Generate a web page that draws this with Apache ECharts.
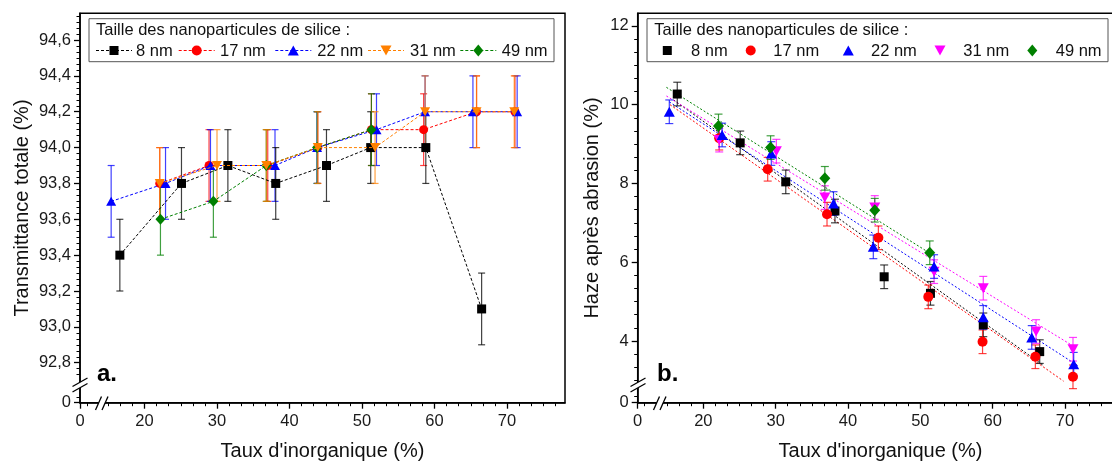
<!DOCTYPE html>
<html>
<head>
<meta charset="utf-8">
<script src="https://cdn.jsdelivr.net/npm/echarts@6/dist/echarts.min.js"></script>
<style>
html,body{margin:0;padding:0;background:#fff;}
#c{width:1112px;height:463px;}
</style>
</head>
<body>
<div id="c"></div>
<script>
// ---------- DATA ----------
const seriesNames = ['8 nm', '17 nm', '22 nm', '31 nm', '49 nm'];

// Panel a: Transmittance totale (%)
const tX8  = [16.6, 25.1, 31.5, 38.1, 45.1, 51.2, 58.8, 66.5];
const tY8  = [93.4, 93.8, 93.9, 93.8, 93.9, 94.0, 94.0, 93.1];
const tX17 = [22.1, 28.9, 37.0, 43.9, 51.3, 58.5, 65.8, 71.1];
const tY17 = [93.8, 93.9, 93.9, 94.0, 94.1, 94.1, 94.2, 94.2];
const tX22 = [15.4, 22.9, 29.1, 38.0, 43.8, 52.0, 58.7, 65.3, 71.4];
const tY22 = [93.7, 93.8, 93.9, 93.9, 94.0, 94.1, 94.2, 94.2, 94.2];
const tX31 = [22.1, 30.0, 36.8, 43.9, 51.8, 58.7, 65.8, 71.0];
const tY31 = [93.8, 93.9, 93.9, 94.0, 94.0, 94.2, 94.2, 94.2];
const tX49 = [22.2, 29.5, 36.8, 43.8, 51.3];
const tY49 = [93.6, 93.7, 93.9, 94.0, 94.1];
const tErr = 0.2;

// Panel b: Haze après abrasion (%)
const hX8  = [16.4, 25.1, 31.4, 38.2, 45.0, 51.4, 58.7, 66.5];
const hY8  = [10.27, 9.03, 8.04, 7.30, 5.63, 5.21, 4.41, 3.73];
const hX17 = [22.2, 28.9, 37.1, 44.2, 51.1, 58.6, 65.9, 71.1];
const hY17 = [9.15, 8.36, 7.22, 6.62, 5.12, 3.98, 3.60, 3.09];
const hX22 = [15.3, 22.6, 29.4, 38.0, 43.5, 51.9, 58.7, 65.4, 71.2];
const hY22 = [9.82, 9.23, 8.76, 7.49, 6.39, 5.89, 4.60, 4.09, 3.41];
const hX31 = [22.2, 30.1, 36.8, 43.7, 51.9, 58.7, 66.0, 71.1];
const hY31 = [9.10, 8.82, 7.64, 7.39, 5.76, 5.34, 4.24, 3.79];
const hX49 = [22.1, 29.3, 36.8, 43.7, 51.3];
const hY49 = [9.46, 8.91, 8.13, 7.32, 6.24];
const hErr = 0.3;

// Fit lines of panel b (read endpoints): [x0, y0, x1, y1]
const fit8  = [15.9, 10.12, 67.0, 3.38];
const fit17 = [15.4, 10.00, 69.8, 2.98];
const fit22 = [15.3, 10.07, 71.8, 3.37];
const fit31 = [14.9, 10.22, 71.4, 3.84];
const fit49 = [14.9, 10.44, 52.0, 6.15];

// Ticks
const xMajor = [20, 30, 40, 50, 60, 70];
const tYMajor = [92.8, 93.0, 93.2, 93.4, 93.6, 93.8, 94.0, 94.2, 94.4, 94.6];
const hYMajor = [4, 6, 8, 10, 12];

// ---------- STYLE ----------
const colorsA = ['#000000', '#ff0000', '#0000ff', '#ff8000', '#008000'];
const colorsB = ['#000000', '#ff0000', '#0000ff', '#ff00ff', '#008000'];
const symbols = ['rect', 'circle', 'triangle', 'path://M0,0 L10,0 L5,9 Z', 'diamond'];
const symSizeA = [9, 9, [10, 9], [10, 9], [10, 11]];
const symSizeB = [9, 10, [11, 10], [11, 10], [11, 12]];
const FONT = '"Liberation Sans", Arial, sans-serif';

// axis ranges (0 label sits at the broken-axis origin)
const axA = {xMin: 11.103, xMax: 78.0, yMin: 92.577, yMax: 94.749};
const axB = {xMin: 10.932, xMax: 78.0, yMin: 2.433, yMax: 12.32};

function minorOf(majors, parts, lo, hi) {
  const out = [];
  for (let i = 0; i < majors.length - 1; i++) {
    const s = (majors[i + 1] - majors[i]) / parts;
    for (let k = 1; k < parts; k++) out.push(+(majors[i] + k * s).toFixed(4));
  }
  const s0 = (majors[1] - majors[0]) / parts;
  for (let k = 1; k < parts; k++) {
    const b = majors[0] - k * s0, a = majors[majors.length - 1] + k * s0;
    if (b >= lo) out.push(+b.toFixed(4));
    if (a <= hi) out.push(+a.toFixed(4));
  }
  return out;
}

const xMinorA = minorOf(xMajor, 6, 14.9, axA.xMax).concat([12.07]);
const xMinorB = minorOf(xMajor, 6, 14.9, axB.xMax).concat([11.9]);
const yMinorA = minorOf(tYMajor, 6, 92.7, axA.yMax).concat([92.61]);
const yMinorB = minorOf(hYMajor, 6, 2.95, axB.yMax).concat([2.59]);

function pairs(xs, ys) { return xs.map((x, i) => [x, ys[i]]); }
function triples(xs, ys, e) { return xs.map((x, i) => [x, ys[i], e]); }

function majorAxis(grid, dim, min, max, majors, fmt, extra) {
  const isX = dim === 'x';
  return Object.assign({
    type: 'value', gridIndex: grid, min: min, max: max,
    position: isX ? 'bottom' : 'left',
    axisLine: {show: true, onZero: false, lineStyle: {color: '#000', width: 1.5}},
    axisTick: {show: true, inside: false, length: 6, customValues: [min].concat(majors),
               lineStyle: {color: '#000', width: 1.3}},
    axisLabel: {show: true, customValues: [min].concat(majors), formatter: fmt,
                fontFamily: FONT, fontSize: 16.5, color: '#1a1a1a', margin: isX ? 10 : 9,
                showMinLabel: true, showMaxLabel: true},
    splitLine: {show: false}, minorTick: {show: false}
  }, extra || {});
}
function minorAxis(grid, dim, min, max, minors) {
  const isX = dim === 'x';
  return {
    type: 'value', gridIndex: grid, min: min, max: max,
    position: isX ? 'bottom' : 'left',
    axisLine: {show: false, onZero: false},
    axisTick: {show: true, inside: false, length: 3.5, customValues: minors,
               lineStyle: {color: '#000', width: 1}},
    axisLabel: {show: false}, splitLine: {show: false}
  };
}

const fmtXA = v => (v < 12 ? '0' : String(Math.round(v)));
const fmtYA = v => (v < 92.7 ? '0' : v.toFixed(1).replace('.', ','));
const fmtYB = v => (v < 3 ? '0' : String(Math.round(v)));

function errRender(color, capHalf, lw) {
  return function (params, api) {
    const x = api.value(0), y = api.value(1), e = api.value(2);
    const t = api.coord([x, y + e]);
    const b = api.coord([x, y - e]);
    const st = {stroke: color, lineWidth: lw, opacity: 0.75};
    return {type: 'group', children: [
      {type: 'line', shape: {x1: t[0], y1: t[1], x2: b[0], y2: b[1]}, style: st},
      {type: 'line', shape: {x1: t[0] - capHalf, y1: t[1], x2: t[0] + capHalf, y2: t[1]}, style: st},
      {type: 'line', shape: {x1: b[0] - capHalf, y1: b[1], x2: b[0] + capHalf, y2: b[1]}, style: st}
    ]};
  };
}

const tX = [tX8, tX17, tX22, tX31, tX49], tY = [tY8, tY17, tY22, tY31, tY49];
const hX = [hX8, hX17, hX22, hX31, hX49], hY = [hY8, hY17, hY22, hY31, hY49];
const fits = [fit8, fit17, fit22, fit31, fit49];

const series = [];
// draw order (later on top)
const orderA = [1, 2, 0, 4, 3];
const orderB = [0, 1, 3, 2, 4];

orderA.forEach((i, k) => {
  series.push({
    type: 'custom', xAxisIndex: 0, yAxisIndex: 0, z: 2,
    renderItem: errRender(colorsA[i], 3.5, 1.2),
    encode: {x: 0, y: 1}, data: triples(tX[i], tY[i], tErr), clip: false, silent: true
  });
});
orderA.forEach((i, k) => {
  series.push({
    type: 'line', name: seriesNames[i], xAxisIndex: 0, yAxisIndex: 0, z: 3 + k,
    data: pairs(tX[i], tY[i]), symbol: symbols[i], symbolSize: symSizeA[i],
    showSymbol: true, itemStyle: {color: colorsA[i], borderWidth: 0},
    lineStyle: {color: colorsA[i], width: 1, type: [3, 2]}, animation: false, silent: true
  });
});
orderB.forEach(i => {
  series.push({
    type: 'line', name: 'fit ' + seriesNames[i], xAxisIndex: 2, yAxisIndex: 2, z: 2,
    data: [[fits[i][0], fits[i][1]], [fits[i][2], fits[i][3]]], symbol: 'none',
    lineStyle: {color: colorsB[i], width: 1, type: [2, 2]}, animation: false, silent: true
  });
});
orderB.forEach(i => {
  series.push({
    type: 'custom', xAxisIndex: 2, yAxisIndex: 2, z: 3,
    renderItem: errRender(colorsB[i], 4, 1.2),
    encode: {x: 0, y: 1}, data: triples(hX[i], hY[i], hErr), clip: false, silent: true
  });
});
orderB.forEach((i, k) => {
  series.push({
    type: 'scatter', name: seriesNames[i], xAxisIndex: 2, yAxisIndex: 2, z: 4 + k,
    data: pairs(hX[i], hY[i]), symbol: symbols[i], symbolSize: symSizeB[i],
    itemStyle: {color: colorsB[i], opacity: 1}, animation: false, silent: true
  });
});

// ---------- LEGENDS & DECORATIONS (graphic) ----------
function markerShape(kind, cx, cy, color, s) {
  const h = s / 2;
  if (kind === 0) return {type: 'rect', shape: {x: cx - h, y: cy - h, width: s, height: s}, style: {fill: color}};
  if (kind === 1) return {type: 'circle', shape: {cx: cx, cy: cy, r: h}, style: {fill: color}};
  if (kind === 2) return {type: 'polygon', shape: {points: [[cx, cy - h], [cx + h + 0.5, cy + h], [cx - h - 0.5, cy + h]]}, style: {fill: color}};
  if (kind === 3) return {type: 'polygon', shape: {points: [[cx - h - 0.5, cy - h], [cx + h + 0.5, cy - h], [cx, cy + h]]}, style: {fill: color}};
  return {type: 'polygon', shape: {points: [[cx, cy - h - 1], [cx + h, cy], [cx, cy + h + 1], [cx - h, cy]]}, style: {fill: color}};
}
function legendBlock(box, titleX, mX, tXs, colors, withLine) {
  const els = [];
  els.push({type: 'rect', shape: {x: box[0], y: box[1], width: box[2], height: box[3]},
            style: {fill: '#fff', stroke: '#555', lineWidth: 1}, z: 50});
  els.push({type: 'text', x: titleX, y: 30.5, z: 51,
            style: {text: 'Taille des nanoparticules de silice :', font: '16.5px ' + FONT, fill: '#111',
                    align: 'left', verticalAlign: 'middle'}});
  for (let i = 0; i < 5; i++) {
    if (withLine) {
      els.push({type: 'line', z: 51, shape: {x1: mX[i] - 18, y1: 50.5, x2: mX[i] + 18, y2: 50.5},
                style: {stroke: colors[i], lineWidth: 1, lineDash: [3, 2]}});
    }
    const m = markerShape(i, mX[i], 50.5, colors[i], i === 0 ? 9 : 10);
    m.z = 52;
    els.push(m);
    els.push({type: 'text', x: tXs[i], y: 51, z: 51,
              style: {text: seriesNames[i], font: '16.5px ' + FONT, fill: '#111',
                      align: 'left', verticalAlign: 'middle'}});
  }
  return els;
}
function breakMarks(p1a, p1b, p2a, p2b) {
  return [
    {type: 'polygon', z: 60, shape: {points: [p1a, p1b, p2b, p2a]}, style: {fill: '#fff'}},
    {type: 'line', z: 61, shape: {x1: p1a[0], y1: p1a[1], x2: p1b[0], y2: p1b[1]}, style: {stroke: '#000', lineWidth: 1.3}},
    {type: 'line', z: 61, shape: {x1: p2a[0], y1: p2a[1], x2: p2b[0], y2: p2b[1]}, style: {stroke: '#000', lineWidth: 1.3}}
  ];
}

const graphics = []
  .concat(legendBlock([89, 18.7, 465, 43], 96, [114, 196.7, 293.3, 386, 478.3], [136, 220, 317.3, 410, 501.7], colorsA, true))
  .concat(legendBlock([647, 18.7, 461, 43], 654.3, [667.3, 750.7, 848.3, 940, 1032.3], [691, 773.3, 871, 963.3, 1055.7], colorsB, false))
  .concat(breakMarks([72.5, 386.5], [87.5, 378], [72.5, 392], [87.5, 383.5]))
  .concat(breakMarks([630.5, 386.5], [645.5, 378], [630.5, 392], [645.5, 383.5]))
  .concat(breakMarks([95.5, 410], [101.5, 396.5], [102, 410], [108, 396.5]))
  .concat(breakMarks([653.5, 410], [659.5, 396.5], [660, 410], [666, 396.5]))
  .concat([
    {type: 'text', x: 97, y: 374, z: 70, style: {text: 'a.', font: 'bold 24px ' + FONT, fill: '#000', align: 'left', verticalAlign: 'middle'}},
    {type: 'text', x: 657, y: 374, z: 70, style: {text: 'b.', font: 'bold 24px ' + FONT, fill: '#000', align: 'left', verticalAlign: 'middle'}},
    {type: 'text', x: 322.5, y: 451, z: 70, style: {text: "Taux d'inorganique (%)", font: '20px ' + FONT, fill: '#111', align: 'center', verticalAlign: 'middle'}},
    {type: 'text', x: 880.5, y: 451, z: 70, style: {text: "Taux d'inorganique (%)", font: '20px ' + FONT, fill: '#111', align: 'center', verticalAlign: 'middle'}},
    {type: 'text', x: 22, y: 208, rotation: Math.PI / 2, z: 70, style: {text: 'Transmittance totale (%)', font: '20px ' + FONT, fill: '#111', align: 'center', verticalAlign: 'middle'}},
    {type: 'text', x: 592.5, y: 208, rotation: Math.PI / 2, z: 70, style: {text: 'Haze après abrasion (%)', font: '20px ' + FONT, fill: '#111', align: 'center', verticalAlign: 'middle'}}
  ]);

const option = {
  backgroundColor: '#ffffff',
  animation: false,
  textStyle: {fontFamily: FONT},
  grid: [
    {left: 80, top: 13.3, width: 485, height: 389.4, show: true, borderColor: '#000', borderWidth: 1.5,
     backgroundColor: 'transparent', containLabel: false, outerBoundsMode: 'none'},
    {left: 637.7, top: 13.3, width: 485.2, height: 389.4, show: true, borderColor: '#000', borderWidth: 1.5,
     backgroundColor: 'transparent', containLabel: false, outerBoundsMode: 'none'}
  ],
  xAxis: [
    majorAxis(0, 'x', axA.xMin, axA.xMax, xMajor, fmtXA),
    minorAxis(0, 'x', axA.xMin, axA.xMax, xMinorA),
    majorAxis(1, 'x', axB.xMin, axB.xMax, xMajor, fmtXA),
    minorAxis(1, 'x', axB.xMin, axB.xMax, xMinorB)
  ],
  yAxis: [
    majorAxis(0, 'y', axA.yMin, axA.yMax, tYMajor, fmtYA),
    minorAxis(0, 'y', axA.yMin, axA.yMax, yMinorA),
    majorAxis(1, 'y', axB.yMin, axB.yMax, hYMajor, fmtYB),
    minorAxis(1, 'y', axB.yMin, axB.yMax, yMinorB)
  ],
  series: series,
  graphic: graphics
};

const chart = echarts.init(document.getElementById('c'), null, {renderer: 'canvas'});
chart.setOption(option);
</script>
</body>
</html>
